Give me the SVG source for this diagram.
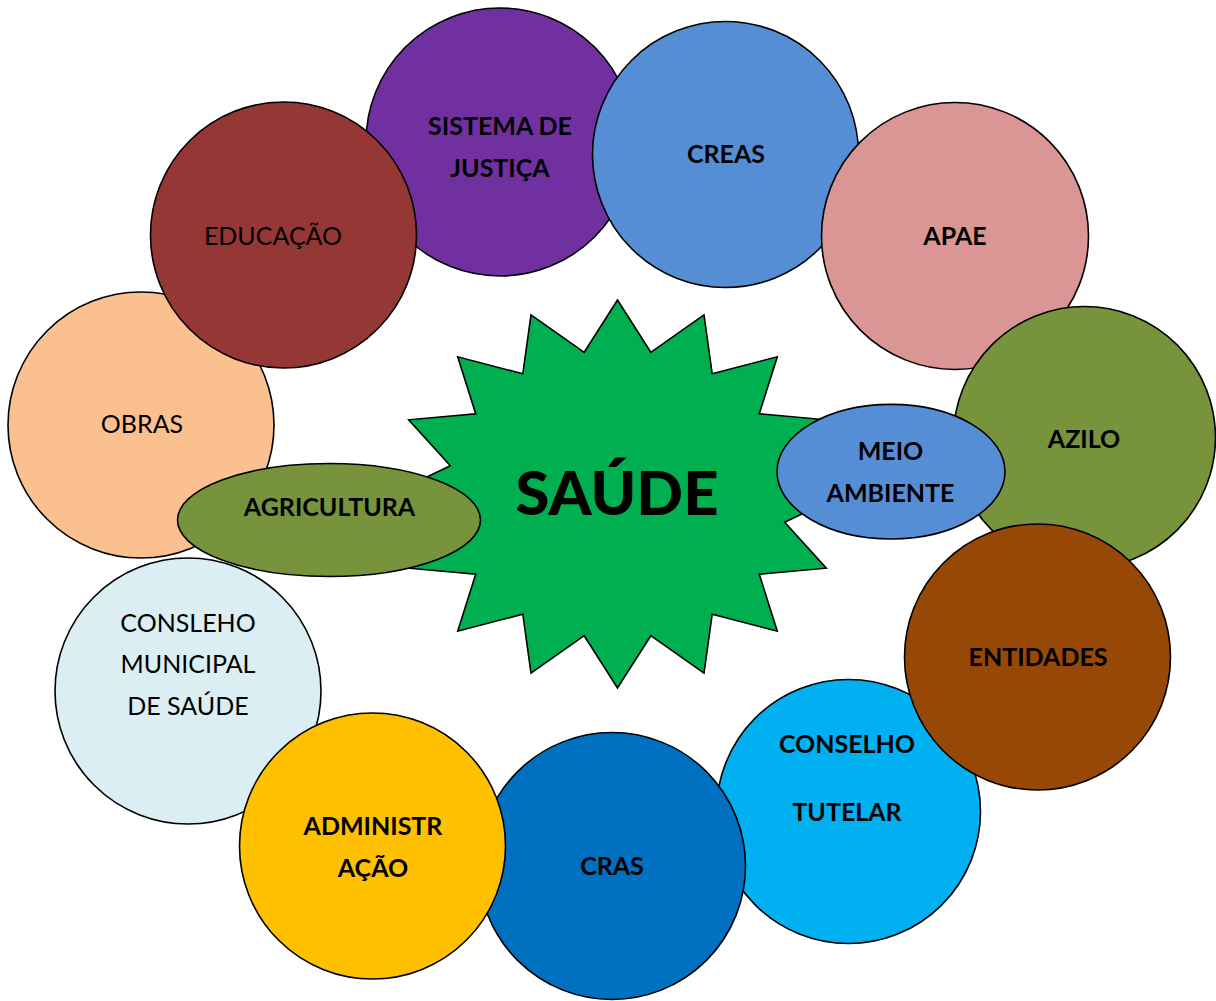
<svg xmlns="http://www.w3.org/2000/svg" width="1216" height="1001" viewBox="0 0 1216 1001">
<style>
.n{stroke:#000;stroke-width:1.6}
.b{font-family:Lato,"Liberation Sans",sans-serif;font-weight:bold;font-size:25px;fill:#000;text-anchor:middle}
.r{font-family:Lato,"Liberation Sans",sans-serif;font-weight:normal;font-size:25px;fill:#000;text-anchor:middle}
</style>
<rect width="1216" height="1001" fill="#fff"/>
<g id="connectors"></g>
<g id="sistema"><circle class="n" cx="500" cy="142" r="134" fill="#7030A0"/><text class="b" x="500" y="135">SISTEMA DE</text><text class="b" x="500" y="177">JUSTIÇA</text></g>
<g id="creas"><circle class="n" cx="725.5" cy="154.5" r="133" fill="#558ED5"/><text class="b" x="726" y="163">CREAS</text></g>
<g id="apae"><circle class="n" cx="955" cy="236" r="133.5" fill="#D99694"/><text class="b" x="955" y="245">APAE</text></g>
<g id="azilo"><circle class="n" cx="1084.5" cy="437.5" r="131" fill="#77933C"/><text class="b" x="1084" y="448">AZILO</text></g>
<g id="conselho-tutelar"><circle class="n" cx="848.5" cy="811.5" r="132" fill="#00B0F0"/><text class="b" x="847" y="753">CONSELHO</text><text class="b" x="847" y="821">TUTELAR</text></g>
<g id="entidades"><circle class="n" cx="1037.5" cy="657" r="133" fill="#974806"/><text class="b" x="1038" y="666">ENTIDADES</text></g>
<g id="cras"><circle class="n" cx="612" cy="866" r="133.5" fill="#0070C0"/><text class="b" x="612" y="875">CRAS</text></g>
<g id="obras"><circle class="n" cx="141" cy="425" r="133" fill="#FAC090"/><text class="r" x="142" y="433">OBRAS</text></g>
<g id="conselho-municipal"><circle class="n" cx="188" cy="691" r="133" fill="#DBEEF4"/><text class="r" x="188" y="632">CONSLEHO</text><text class="r" x="188" y="673">MUNICIPAL</text><text class="r" x="188" y="715">DE SAÚDE</text></g>
<g id="administracao"><circle class="n" cx="372.5" cy="846" r="133" fill="#FFC000"/><text class="b" x="373" y="835">ADMINISTR</text><text class="b" x="373" y="877">AÇÃO</text></g>
<g id="educacao"><circle class="n" cx="283.5" cy="235" r="133" fill="#953735"/><text class="r" x="273" y="245">EDUCAÇÃO</text></g>
<g id="saude"><polygon class="n" fill="#00B050" points="617.5,300 650.8,352.3 704,314.8 712.2,373.8 777.3,356.8 759.3,413.7 826.3,419.8 784.7,465.8 843.5,494 784.7,522.2 826.3,568.2 759.3,574.3 777.3,631.2 712.2,614.2 704,673.2 650.8,635.7 617.5,688 584.2,635.7 531,673.2 522.8,614.2 457.7,631.2 475.7,574.3 408.7,568.2 450.3,522.2 391.5,494 450.3,465.8 408.7,419.8 475.7,413.7 457.7,356.8 522.8,373.8 531,314.8 584.2,352.3"/><text class="b" x="617" y="515" style="font-size:61.5px;font-weight:900">SAÚDE</text></g>
<g id="agricultura"><ellipse class="n" cx="329" cy="520" rx="151.5" ry="56.5" fill="#77933C"/><text class="b" x="329.5" y="516">AGRICULTURA</text></g>
<g id="meio-ambiente"><ellipse class="n" cx="891" cy="471.7" rx="114" ry="67.3" fill="#558ED5"/><text class="b" x="890.5" y="460">MEIO</text><text class="b" x="890.5" y="502">AMBIENTE</text></g>
</svg>
